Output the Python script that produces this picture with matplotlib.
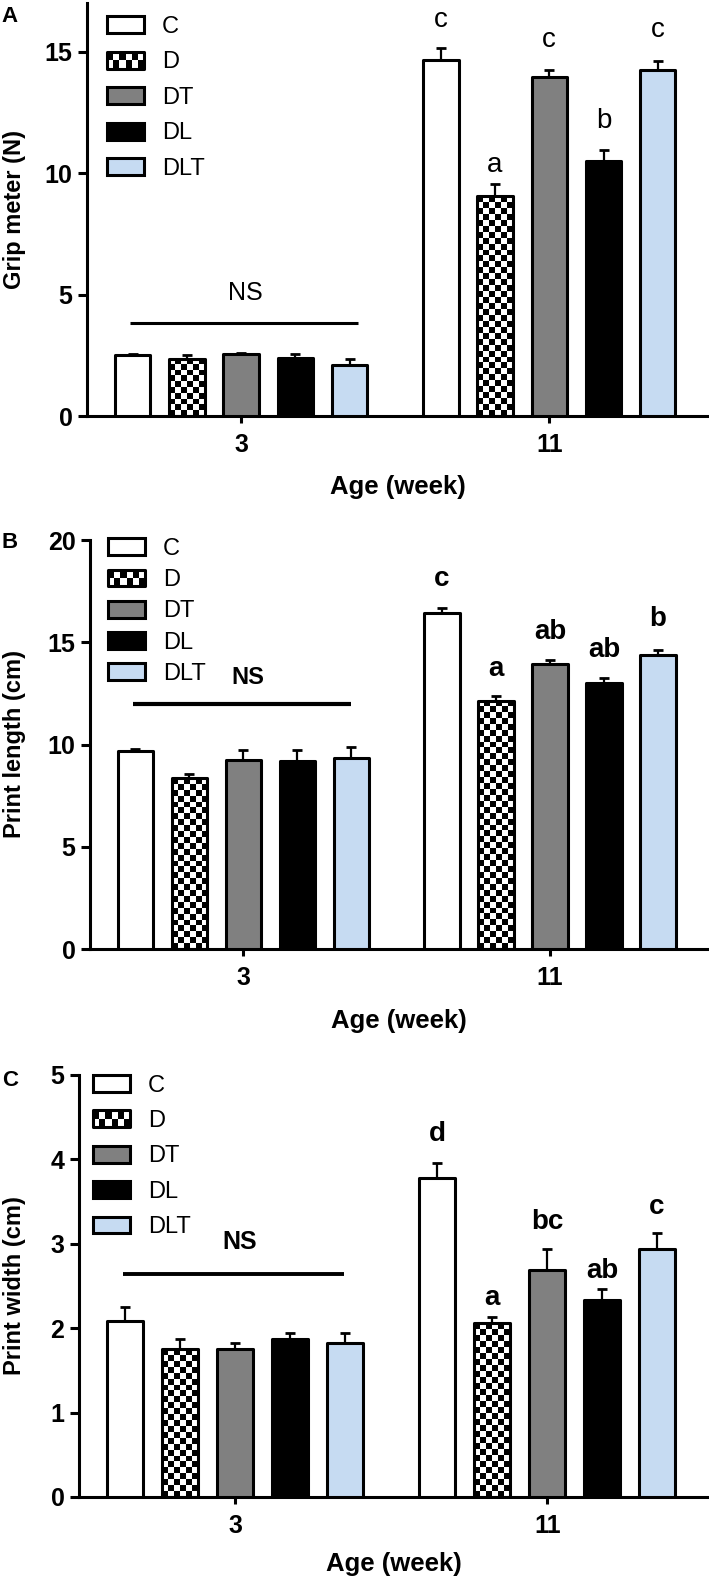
import numpy as np
import matplotlib
matplotlib.use("Agg")
from matplotlib import pyplot as plt
from matplotlib.patches import Patch, Rectangle
from matplotlib.legend_handler import HandlerBase

plt.rcParams['font.family'] = ['Liberation Sans', 'DejaVu Sans']

groups = ["C", "D", "DT", "DL", "DLT"]
ages = ["3", "11"]

# panel A - grip meter (N)
grip_3 = [2.50, 2.35, 2.55, 2.40, 2.10]
grip_3_err = [0.05, 0.17, 0.05, 0.17, 0.26]
grip_11 = [14.65, 9.05, 13.95, 10.50, 14.25]
grip_11_err = [0.50, 0.50, 0.28, 0.45, 0.37]
grip_letters = ["c", "a", "c", "b", "c"]

# panel B - print length (cm)
length_3 = [9.70, 8.35, 9.22, 9.17, 9.32]
length_3_err = [0.10, 0.20, 0.50, 0.54, 0.58]
length_11 = [16.45, 12.15, 13.95, 13.00, 14.40]
length_11_err = [0.23, 0.20, 0.18, 0.23, 0.24]
length_letters = ["c", "a", "ab", "ab", "b"]

# panel C - print width (cm)
width_3 = [2.09, 1.75, 1.75, 1.87, 1.82]
width_3_err = [0.16, 0.12, 0.07, 0.07, 0.12]
width_11 = [3.78, 2.06, 2.69, 2.33, 2.94]
width_11_err = [0.18, 0.07, 0.25, 0.13, 0.19]
width_letters = ["d", "a", "bc", "ab", "c"]

colors = ["white", "white", "#808080", "black", "#c6dbf2"]

W, H = 709, 1578
LW = 2.2


class CheckerHandler(HandlerBase):
    def create_artists(self, legend, orig_handle, xdescent, ydescent,
                       width, height, fontsize, trans):
        x0, y0 = -xdescent, -ydescent
        arts = [Rectangle((x0, y0), width, height, facecolor="black",
                          edgecolor="none", transform=trans)]
        nc, nr = 6, 2
        cw, ch = width / nc, height / nr
        for i in range(nc):
            for j in range(nr):
                if (i + j) % 2 == 0:
                    arts.append(Rectangle((x0 + i * cw, y0 + j * ch), cw, ch,
                                          facecolor="white", edgecolor="none",
                                          transform=trans))
        arts.append(Rectangle((x0, y0), width, height, facecolor="none",
                              edgecolor="black", lw=LW, joinstyle="round",
                              transform=trans))
        return arts


def px_axes(fig, left, right, top, bottom):
    return fig.add_axes([left / W, 1 - bottom / H, (right - left) / W, (bottom - top) / H])


def panel(fig, rect, ymax, yticks, g3, e3, g11, e11, letters, letter_y,
          letter_weight, letter_size, ns_y, ns_line, ns_text_y, ns_weight, ns_size,
          ns_lw, ylabel, leg_xy, leg_spacing, tag, tag_y, xlab_y, ylab_x):
    ax = px_axes(fig, *rect)
    step = 0.176
    bw = 0.115
    offs = (np.arange(5) - 2) * step
    ax.set_xlim(-0.5, 1.515)
    ax.set_ylim(0, ymax)
    means = [g3, g11]
    errs = [e3, e11]
    for gi in range(2):
        xs = gi + offs
        for k in range(5):
            fc = "none" if k == 1 else colors[k]
            b = ax.bar(xs[k], means[gi][k], width=bw, facecolor=fc, edgecolor="black",
                       linewidth=LW, zorder=3, joinstyle="round")
            if k == 1:
                # checkerboard fill for the D group
                rect_p = b.patches[0]
                x0 = xs[k] - bw / 2
                p0 = ax.transData.transform((x0, 0))
                p1 = ax.transData.transform((x0 + bw, means[gi][k]))
                wpx, hpx = p1[0] - p0[0], p1[1] - p0[1]
                nc = 6
                cell = wpx / nc
                nr = max(1, int(round(hpx / cell)))
                board = (np.add.outer(np.arange(nr), np.arange(nc)) % 2).astype(float)
                im = ax.imshow(board, cmap="gray", extent=(x0, x0 + bw, 0, means[gi][k]),
                               aspect="auto", interpolation="nearest", zorder=2,
                               origin="lower")
                im.set_clip_path(rect_p)
        ax.errorbar(xs, means[gi], yerr=[np.zeros(5), errs[gi]], fmt="none",
                    ecolor="black", elinewidth=1.6, capsize=3.5, capthick=2.0, zorder=2.5)
    for k in range(5):
        ax.text(1 + offs[k], letter_y[k], letters[k], ha="center", va="baseline",
                fontsize=letter_size, fontweight=letter_weight)
    ax.plot(ns_line, [ns_y, ns_y], color="black", lw=ns_lw, solid_capstyle="butt")
    ax.text(0.015, ns_text_y, "NS", ha="center", va="center", fontsize=ns_size,
            fontweight=ns_weight)
    ax.set_xlim(-0.5, 1.515)
    ax.set_ylim(0, ymax)
    for s in ["top", "right"]:
        ax.spines[s].set_visible(False)
    for s in ["left", "bottom"]:
        ax.spines[s].set_linewidth(LW)
    ax.set_xticks([0, 1])
    ax.set_xticklabels(ages, fontsize=18, fontweight="bold")
    ax.set_yticks(yticks)
    ax.set_yticklabels([str(t) for t in yticks], fontsize=18, fontweight="bold")
    ax.tick_params(axis="y", length=6.5, width=LW, pad=4)
    ax.tick_params(axis="x", length=5, width=LW, pad=7.5)
    ax.set_ylabel(ylabel, fontsize=17, fontweight="bold")
    ax.yaxis.set_label_coords((ylab_x - rect[0]) / (rect[1] - rect[0]), 0.5)
    ax.yaxis.label.set_va("center")
    ax.set_xlabel("Age (week)", fontsize=18.5, fontweight="bold")
    ax.xaxis.set_label_coords(0.5, (rect[3] - xlab_y) / (rect[3] - rect[2]))
    ax.xaxis.label.set_va("center")

    handles = []
    for k in range(5):
        handles.append(Patch(facecolor=colors[k], edgecolor="black", linewidth=LW,
                             joinstyle="round", label=groups[k]))
    ax.legend(handles=handles, loc="upper left",
              bbox_to_anchor=(leg_xy[0] / W, 1 - leg_xy[1] / H),
              bbox_transform=fig.transFigure, frameon=False, fontsize=17,
              handlelength=1.57, handleheight=0.72, handletextpad=0.75,
              labelspacing=leg_spacing, borderpad=0, borderaxespad=0,
              handler_map={handles[1]: CheckerHandler()})
    fig.text(10 / W, 1 - tag_y / H, tag, fontsize=16, fontweight="bold",
             ha="center", va="center")
    return ax


def main():
    fig = plt.figure(figsize=(W / 100, H / 100), dpi=100)

    panel(fig, (87, 708, 3, 416), 17, [0, 5, 10, 15],
          grip_3, grip_3_err, grip_11, grip_11_err, grip_letters,
          [16.0, 10.04, 15.2, 11.86, 15.58], "normal", 20,
          3.84, [-0.36, 0.38], 5.06, "normal", 18, 2.2,
          "Grip meter (N)", (107, 16), 0.57, "A", 17, 487, 14.5)

    panel(fig, (90, 708, 540, 949), 20, [0, 5, 10, 15, 20],
          length_3, length_3_err, length_11, length_11_err, length_letters,
          [17.76, 13.37, 15.17, 14.3, 15.8], "bold", 20,
          12.0, [-0.36, 0.35], 13.3, "bold", 17, 3.0,
          "Print length (cm)", (108, 538), 0.39, "B", 542, 1021, 14.5)

    panel(fig, (79, 708, 1075, 1497), 5, [0, 1, 2, 3, 4, 5],
          width_3, width_3_err, width_11, width_11_err, width_letters,
          [4.22, 2.28, 3.18, 2.6, 3.35], "bold", 20,
          2.64, [-0.36, 0.35], 3.02, "bold", 18, 2.8,
          "Print width (cm)", (93, 1074.5), 0.57, "C", 1080, 1564, 14.5)

    fig.savefig("out.png", dpi=100)
    plt.close(fig)


if __name__ == '__main__':
    main()
